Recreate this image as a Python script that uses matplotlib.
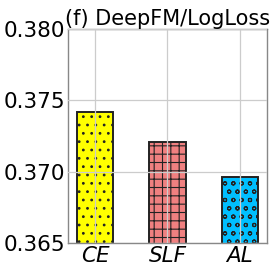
import matplotlib
matplotlib.use("Agg")
import matplotlib.pyplot as plt

methods = ["CE", "SLF", "AL"]
logloss = [0.3742, 0.3721, 0.3696]
colors = ["yellow", "lightcoral", "deepskyblue"]
hatches = ["..", "++", "oo"]
yticks = [0.365, 0.370, 0.375, 0.380]

plt.rcParams["hatch.linewidth"] = 0.8

fig = plt.figure(figsize=(2.72, 2.72), dpi=100)
ax = fig.add_axes([0.25, 0.1066, 0.7316, 0.7868])

x = range(len(methods))
bars = ax.bar(x, logloss, width=0.5, color=colors, edgecolor="#222222",
              linewidth=1.4, zorder=1)
for b, h in zip(bars, hatches):
    b.set_hatch(h)

ax.set_ylim(0.365, 0.380)
ax.set_yticks(yticks)
ax.set_yticklabels(["%.3f" % t for t in yticks], fontsize=15.5)
ax.set_xticks(list(x))
ax.set_xticklabels(methods, fontsize=15.5, style="italic")
ax.tick_params(length=0, pad=2)
ax.grid(True, color="#cccccc", linewidth=0.9, zorder=3)
ax.set_axisbelow(False)
for s in ax.spines.values():
    s.set_color("#888888")
    s.set_linewidth(1.0)
ax.set_title("(f) DeepFM/LogLoss", fontsize=15, pad=3)

fig.savefig("out.png", dpi=100)
